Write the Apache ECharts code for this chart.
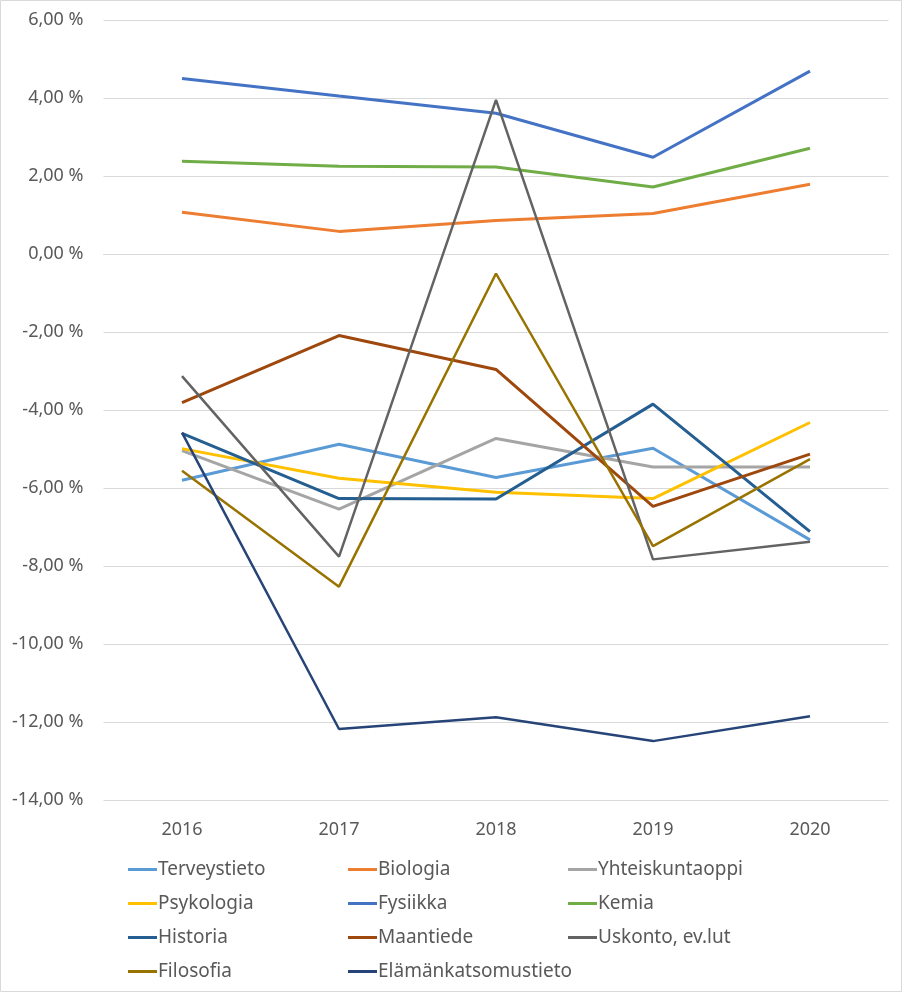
<!DOCTYPE html>
<html><head><meta charset="utf-8">
<script src="https://cdn.jsdelivr.net/npm/echarts@6/dist/echarts.min.js"></script>
<style>html,body{margin:0;padding:0;background:#fff}#c{width:902px;height:992px}</style>
</head><body><div id="c"></div>
<script>
const years = ['2016','2017','2018','2019','2020'];
const yTicks = { min: -14, max: 6, interval: 2 };
const terveystieto = [-5.80, -4.88, -5.73, -4.98, -7.33];
const biologia = [1.07, 0.58, 0.86, 1.04, 1.79];
const yhteiskuntaoppi = [-5.04, -6.54, -4.73, -5.46, -5.46];
const psykologia = [-4.99, -5.75, -6.11, -6.27, -4.32];
const fysiikka = [4.50, 4.05, 3.61, 2.48, 4.69];
const kemia = [2.38, 2.25, 2.23, 1.72, 2.71];
const historia = [-4.60, -6.27, -6.28, -3.85, -7.12];
const maantiede = [-3.81, -2.09, -2.96, -6.47, -5.13];
const uskonto = [-3.13, -7.76, 3.95, -7.83, -7.38];
const filosofia = [-5.56, -8.53, -0.50, -7.49, -5.26];
const elamankatsomustieto = [-4.58, -12.18, -11.88, -12.49, -11.85];

const seriesDefs = [
  ['Terveystieto', terveystieto, '#5B9BD5', 3],
  ['Biologia', biologia, '#ED7D31', 3],
  ['Yhteiskuntaoppi', yhteiskuntaoppi, '#A5A5A5', 3],
  ['Psykologia', psykologia, '#FFC000', 3],
  ['Fysiikka', fysiikka, '#4472C4', 3],
  ['Kemia', kemia, '#70AD47', 3],
  ['Historia', historia, '#255E91', 3],
  ['Maantiede', maantiede, '#9E480E', 3],
  ['Uskonto, ev.lut', uskonto, '#636363', 2.5],
  ['Filosofia', filosofia, '#997300', 2.5],
  ['Elämänkatsomustieto', elamankatsomustieto, '#264478', 2.5]
];
const font = 'Noto Sans';
const txt = '#595959';
const legendBase = {
  orient: 'vertical', icon: 'rect', itemWidth: 29, itemHeight: 3, itemGap: 15,
  textStyle: { fontFamily: font, fontSize: 19, lineHeight: 19, color: txt, padding: [0,0,0,-4] },
  top: 855
};
const chart = echarts.init(document.getElementById('c'), null, { renderer: 'canvas' });
chart.setOption({
  backgroundColor: '#fff',
  animation: false,
  grid: { left: 103.5, right: 13.5, top: 20, bottom: 192 },
  graphic: [{ type: 'rect', shape: { x: 0.5, y: 0.5, width: 901, height: 991 }, style: { fill: null, stroke: '#d9d9d9', lineWidth: 1 } }],
  legend: [
    Object.assign({}, legendBase, { left: 123, data: ['Terveystieto','Psykologia','Historia','Filosofia'] }),
    Object.assign({}, legendBase, { left: 343, data: ['Biologia','Fysiikka','Maantiede','Elämänkatsomustieto'] }),
    Object.assign({}, legendBase, { left: 563, data: ['Yhteiskuntaoppi','Kemia','Uskonto, ev.lut'] })
  ],
  xAxis: {
    type: 'category', data: years, boundaryGap: true,
    axisLine: { lineStyle: { color: '#d9d9d9' } },
    axisTick: { show: false },
    axisLabel: { fontFamily: font, fontSize: 18, color: txt, margin: 21 }
  },
  yAxis: {
    type: 'value', min: yTicks.min, max: yTicks.max, interval: yTicks.interval,
    axisLine: { show: false }, axisTick: { show: false },
    splitLine: { lineStyle: { color: '#d9d9d9', width: 1 } },
    axisLabel: { fontFamily: font, fontSize: 18, color: txt, margin: 20,
      formatter: v => v.toFixed(2).replace('.', ',') + ' %' }
  },
  series: seriesDefs.map(([name, data, color, w]) => ({
    name, type: 'line', data, showSymbol: false, symbol: 'none',
    lineStyle: { color, width: w }, itemStyle: { color }
  }))
});
</script></body></html>
